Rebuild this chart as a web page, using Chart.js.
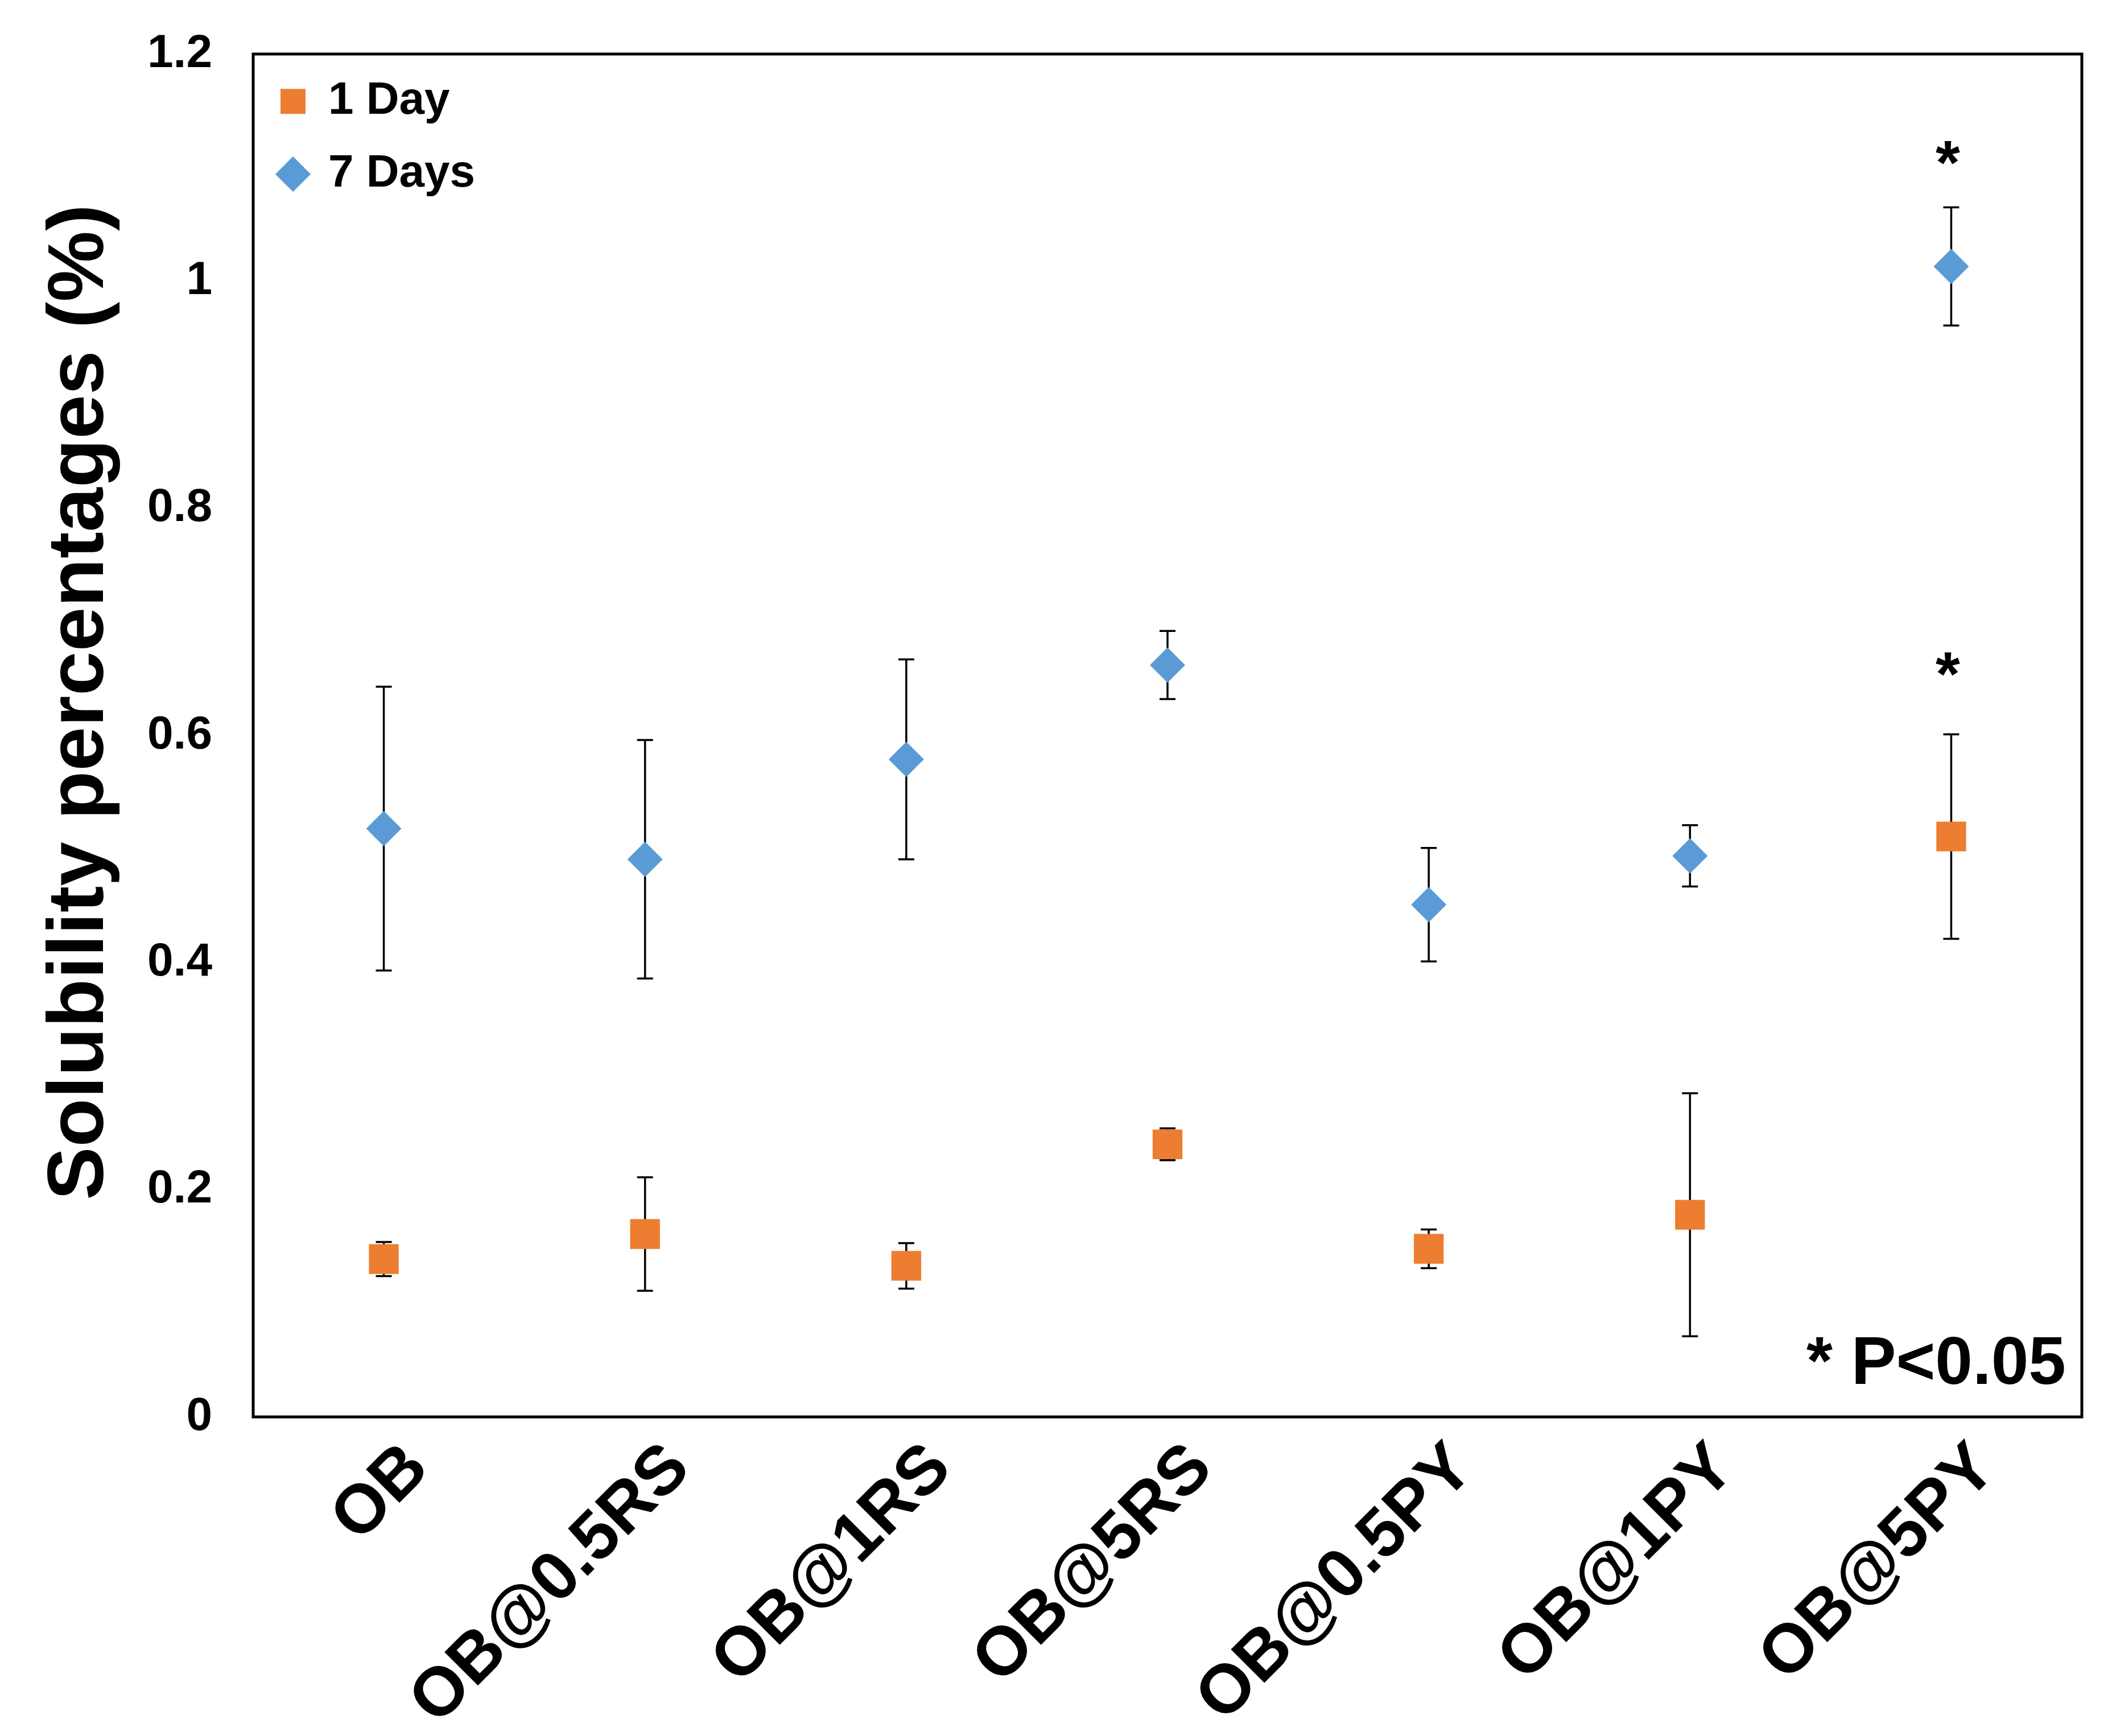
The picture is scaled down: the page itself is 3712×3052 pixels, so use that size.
<!DOCTYPE html>
<html>
<head>
<meta charset="utf-8">
<script src="https://cdn.jsdelivr.net/npm/chart.js@4"></script>
<style>
  body { margin: 0; background: #fff; }
  #wrap { width: 3712px; height: 3052px; }
</style>
</head>
<body>
<div id="wrap"><canvas id="chart"></canvas></div>
<script>
// --- Data ---
const categories = ['OB', 'OB@0.5RS', 'OB@1RS', 'OB@5RS', 'OB@0.5PY', 'OB@1PY', 'OB@5PY'];
const day1 = [0.139, 0.161, 0.133, 0.240, 0.148, 0.178, 0.511];
const day1Err = [0.015, 0.050, 0.020, 0.014, 0.017, 0.107, 0.090];
const day7 = [0.518, 0.491, 0.579, 0.662, 0.451, 0.494, 1.013];
const day7Err = [0.125, 0.105, 0.088, 0.030, 0.050, 0.027, 0.052];
// significance stars (category, y value)
const starCats = ['OB@5PY', 'OB@5PY'];
const starVals = [1.110, 0.660];
const yTicks = [0, 0.2, 0.4, 0.6, 0.8, 1, 1.2];

const FONT = "'Liberation Sans', Arial, sans-serif";

// --- Error bars + frame + annotations ---
const errorBars = {
    id: 'errorBars',
    beforeDatasetsDraw(chart) {
        const { ctx, scales: { y } } = chart;
        ctx.save();
        ctx.strokeStyle = '#000';
        ctx.lineWidth = 3.5;
        chart.data.datasets.forEach((ds, di) => {
            const meta = chart.getDatasetMeta(di);
            meta.data.forEach((pt, i) => {
                const v = ds.data[i], e = ds.errors[i];
                const top = y.getPixelForValue(v + e);
                const bot = y.getPixelForValue(v - e);
                const cap = 14;
                ctx.beginPath();
                ctx.moveTo(pt.x, top); ctx.lineTo(pt.x, bot);
                ctx.moveTo(pt.x - cap, top); ctx.lineTo(pt.x + cap, top);
                ctx.moveTo(pt.x - cap, bot); ctx.lineTo(pt.x + cap, bot);
                ctx.stroke();
            });
        });
        ctx.restore();
    },
    afterDraw(chart) {
        const { ctx, chartArea: a, scales: { x, y } } = chart;
        ctx.save();
        // frame round the plot
        ctx.strokeStyle = '#000';
        ctx.lineWidth = 5;
        ctx.strokeRect(a.left, a.top, a.right - a.left, a.bottom - a.top);
        // stars
        ctx.fillStyle = '#000';
        ctx.font = 'bold 110px ' + FONT;
        ctx.textAlign = 'center';
        ctx.textBaseline = 'middle';
        starCats.forEach((c, i) => {
            ctx.fillText('*', x.getPixelForValue(categories.indexOf(c)) - 6, y.getPixelForValue(starVals[i]) + 18);
        });
        // p-value note
        ctx.font = 'bold 118px ' + FONT;
        ctx.textAlign = 'right';
        ctx.textBaseline = 'alphabetic';
        ctx.fillText('* P<0.05', a.right - 28, a.bottom - 58);
        ctx.restore();
    }
};

new Chart(document.getElementById('chart'), {
    type: 'line',
    data: {
        labels: categories,
        datasets: [
            {
                label: '1 Day',
                data: day1,
                errors: day1Err,
                showLine: false,
                pointStyle: 'rect',
                pointRadius: 37,
                pointHoverRadius: 37,
                backgroundColor: '#ED7D31',
                borderColor: '#ED7D31',
                borderWidth: 0,
                pointBorderWidth: 0
            },
            {
                label: '7 Days',
                data: day7,
                errors: day7Err,
                showLine: false,
                pointStyle: 'rectRot',
                pointRadius: 31,
                pointHoverRadius: 31,
                backgroundColor: '#5B9BD5',
                borderColor: '#5B9BD5',
                borderWidth: 0,
                pointBorderWidth: 0
            }
        ]
    },
    options: {
        responsive: true,
        maintainAspectRatio: false,
        devicePixelRatio: 1,
        animation: false,
        layout: { padding: { top: 95, right: 53, left: 0, bottom: 0 } },
        plugins: {
            legend: {
                position: 'chartArea',
                align: 'start',
                // empty title only pushes the items down inside the frame
                title: { display: true, text: '', padding: { top: 89, bottom: 0 }, font: { size: 1 } },
                labels: {
                    usePointStyle: true,
                    boxWidth: 44,
                    boxHeight: 44,
                    padding: 48,
                    color: '#000',
                    font: { size: 80, weight: 'bold', family: FONT }
                }
            },
            tooltip: { enabled: false }
        },
        scales: {
            x: {
                offset: true,
                grid: { display: false, drawTicks: false },
                border: { display: false },
                ticks: {
                    autoSkip: false,
                    minRotation: 45,
                    maxRotation: 45,
                    padding: 20,
                    labelOffset: 60,
                    color: '#000',
                    font: { size: 121, weight: 'bold', family: FONT }
                },
                afterFit(scale) { scale.height = 561; }
            },
            y: {
                min: 0,
                max: 1.2,
                afterBuildTicks(scale) { scale.ticks = yTicks.map(v => ({ value: v })); },
                grid: { display: false, drawTicks: false },
                border: { display: false },
                ticks: {
                    padding: 72,
                    color: '#000',
                    font: { size: 82, weight: 'bold', family: FONT },
                    callback: v => String(+Number(v).toFixed(1))
                },
                title: {
                    display: true,
                    text: '   Solubility percentages (%)',
                    color: '#000',
                    padding: { top: 58, bottom: 0 },
                    font: { size: 140, weight: 'bold', family: FONT }
                },
                afterFit(scale) {
                    scale.width = 445;
                    // tick padding should not push the plot down
                    scale.paddingTop = 0;
                    scale.paddingBottom = 0;
                }
            }
        }
    },
    plugins: [errorBars]
});
</script>
</body>
</html>
